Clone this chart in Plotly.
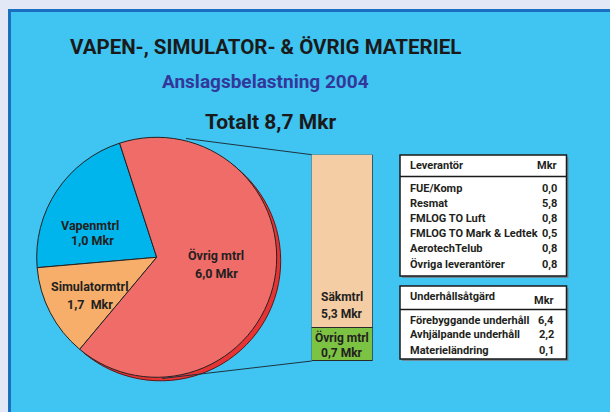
import plotly.graph_objects as go

W, H = 610, 412

# ---- data ----
pie_labels = ["Vapenmtrl", "Simulatormtrl", "Övrig mtrl"]
pie_label_values = ["1,0 Mkr", "1,7  Mkr", "6,0 Mkr"]
pie_slice_sizes = [1.86, 1.09, 5.75]          # slice sizes as drawn
pie_colors = ["#00b4ec", "#f6ae6a", "#f06c69"]

bar_labels = ["Övrig mtrl", "Säkmtrl"]
bar_label_values = ["0,7 Mkr", "5,3 Mkr"]
bar_sizes = [0.98, 5.02]                      # segment heights as drawn
bar_colors = ["#7cc243", "#f4cda5"]

lev_names = ["FUE/Komp", "Resmat", "FMLOG TO Luft", "FMLOG TO Mark & Ledtek",
             "AerotechTelub", "Övriga leverantörer"]
lev_values = ["0,0", "5,8", "0,8", "0,5", "0,8", "0,8"]

uh_names = ["Förebyggande underhåll", "Avhjälpande underhåll", "Materieländring"]
uh_values = ["6,4", "2,2", "0,1"]

title = "VAPEN-, SIMULATOR- & ÖVRIG MATERIEL"
subtitle = "Anslagsbelastning 2004"
total_text = "Totalt 8,7 Mkr"

FONT = "Roboto, Liberation Sans, sans-serif"
BG = "#40c4f1"
PAGE_BG = "#e2e8f5"


def px(x):
    return x / W


def py(y):
    return 1 - y / H


fig = go.Figure()

# pie geometry
cx, cy, r = 156.7, 257.3, 120.0
sdx, sdy = 4.0, 3.5
start_ccw = 18.0  # boundary between Övrig and Vapen, degrees CCW from 12 o'clock
rot = -(start_ccw + 360 * pie_slice_sizes[0] / sum(pie_slice_sizes))

# shadow pie (only the Övrig slice visible)
fig.add_trace(go.Pie(
    labels=pie_labels, values=pie_slice_sizes, sort=False,
    direction="counterclockwise", rotation=rot,
    marker=dict(colors=["rgba(0,0,0,0)", "rgba(0,0,0,0)", "#e63434"],
                line=dict(color=["rgba(0,0,0,0)", "rgba(0,0,0,0)", "#5a1a1a"],
                          width=[0, 0, 1])),
    textinfo="none", hoverinfo="skip", showlegend=False,
    domain=dict(x=[px(cx + sdx - r), px(cx + sdx + r)],
                y=[py(cy + sdy + r), py(cy + sdy - r)]),
))

# main pie
fig.add_trace(go.Pie(
    labels=pie_labels, values=pie_slice_sizes, sort=False,
    direction="counterclockwise", rotation=rot,
    marker=dict(colors=pie_colors, line=dict(color="#222222", width=1)),
    textinfo="none", showlegend=False,
    domain=dict(x=[px(cx - r), px(cx + r)], y=[py(cy + r), py(cy - r)]),
))

# stacked bar
for lab, v, c in zip(bar_labels, bar_sizes, bar_colors):
    fig.add_trace(go.Bar(
        x=[0], y=[v], name=lab, width=1, marker=dict(color=c, line=dict(color="#2a2a2a", width=1)),
        showlegend=False, xaxis="x", yaxis="y",
    ))

bar_left, bar_right, bar_top, bar_bottom = 311.7, 372.7, 154.7, 361.0

shapes = []
# frame
shapes.append(dict(type="rect", xref="paper", yref="paper", layer="below",
                   x0=px(9.5), x1=1.05, y0=-0.05, y1=py(10.5),
                   fillcolor=BG, line=dict(color="#1a6fc1", width=3)))
# connector lines
shapes.append(dict(type="line", xref="paper", yref="paper",
                   x0=px(186), y0=py(138.5), x1=px(bar_left), y1=py(bar_top),
                   line=dict(color="#1d3340", width=1)))
shapes.append(dict(type="line", xref="paper", yref="paper",
                   x0=px(162), y0=py(378.5), x1=px(bar_left), y1=py(bar_bottom),
                   line=dict(color="#1d3340", width=1)))


def table_box(x0, y0, x1, y1, sep_y):
    shapes.append(dict(type="rect", xref="paper", yref="paper", layer="below",
                       x0=px(x0 + 2), x1=px(x1 + 2), y0=py(y1 + 2), y1=py(y0 + 2),
                       fillcolor="#6a8a99", line=dict(width=0)))
    shapes.append(dict(type="rect", xref="paper", yref="paper", layer="below",
                       x0=px(x0), x1=px(x1), y0=py(y1), y1=py(y0),
                       fillcolor="white", line=dict(color="#1a1a1a", width=1.5)))
    shapes.append(dict(type="line", xref="paper", yref="paper",
                       x0=px(x0), x1=px(x1), y0=py(sep_y), y1=py(sep_y),
                       line=dict(color="#1a1a1a", width=1.5)))


table_box(400, 155, 566.5, 276, 176.5)
table_box(400, 286, 566.5, 359, 309.5)

ann = []


def text(x, y, s, size=12, color="#231f20", anchor="center"):
    ann.append(dict(x=px(x), y=py(y), xref="paper", yref="paper", text=s,
                    showarrow=False, xanchor=anchor, yanchor="middle",
                    font=dict(family=FONT, size=size, color=color)))


text(265, 47, "<b>" + title + "</b>", size=20.5, color="#1a1a1a")
text(265.5, 81, "<b>" + subtitle + "</b>", size=19, color="#33379a")
text(270, 122, "<b>" + total_text + "</b>", size=21, color="#1a1a1a")

# pie labels
pie_pos = [((90, 225), (92, 240.5)), ((89.5, 286.5), (90, 304)), ((216, 256), (216.5, 273.5))]
for (p1, p2), lab, val in zip(pie_pos, pie_labels, pie_label_values):
    text(p1[0], p1[1], "<b>" + lab + "</b>", size=12.5)
    text(p2[0], p2[1], "<b>" + val + "</b>", size=12.5)

# bar labels
bcx = (bar_left + bar_right) / 2
text(bcx, 337.3, "<b>" + bar_labels[0] + "</b>", size=12)
text(bcx, 353.3, "<b>" + bar_label_values[0] + "</b>", size=12)
text(bcx, 296.7, "<b>" + bar_labels[1] + "</b>", size=12)
text(bcx, 314.2, "<b>" + bar_label_values[1] + "</b>", size=12)

# table 1
TS = 11
text(408, 165.7, "<b>Leverantör</b>", size=TS, anchor="left")
text(558.5, 165.7, "<b>Mkr</b>", size=TS, anchor="right")
for i, (n, v) in enumerate(zip(lev_names, lev_values)):
    y = 188.3 + i * 15.15
    text(408, y, "<b>" + n + "</b>", size=TS, anchor="left")
    text(558.5, y, "<b>" + v + "</b>", size=TS, anchor="right")

# table 2
text(408, 296.7, "<b>Underhållsåtgärd</b>", size=TS, anchor="left")
text(556, 300.5, "<b>Mkr</b>", size=TS, anchor="right")
uh_y = [320.5, 334.5, 350.5]
for y, n, v in zip(uh_y, uh_names, uh_values):
    text(408, y, "<b>" + n + "</b>", size=TS, anchor="left")
    text(556, y, "<b>" + v + "</b>", size=TS, anchor="right")

fig.update_layout(
    width=W, height=H, margin=dict(l=0, r=0, t=0, b=0),
    paper_bgcolor=PAGE_BG, plot_bgcolor="rgba(0,0,0,0)",
    barmode="stack", bargap=0,
    xaxis=dict(domain=[px(bar_left), px(bar_right)], range=[-0.5, 0.5],
               visible=False, fixedrange=True),
    yaxis=dict(domain=[py(bar_bottom), py(bar_top)], range=[0, sum(bar_sizes)],
               visible=False, fixedrange=True),
    shapes=shapes, annotations=ann,
)

fig.write_html(
    "out.html",
    config={"displayModeBar": False},
    post_script=("document.body.style.margin='0';"
                 "document.body.style.overflow='hidden';"
                 f"document.body.style.background='{PAGE_BG}';"),
)
